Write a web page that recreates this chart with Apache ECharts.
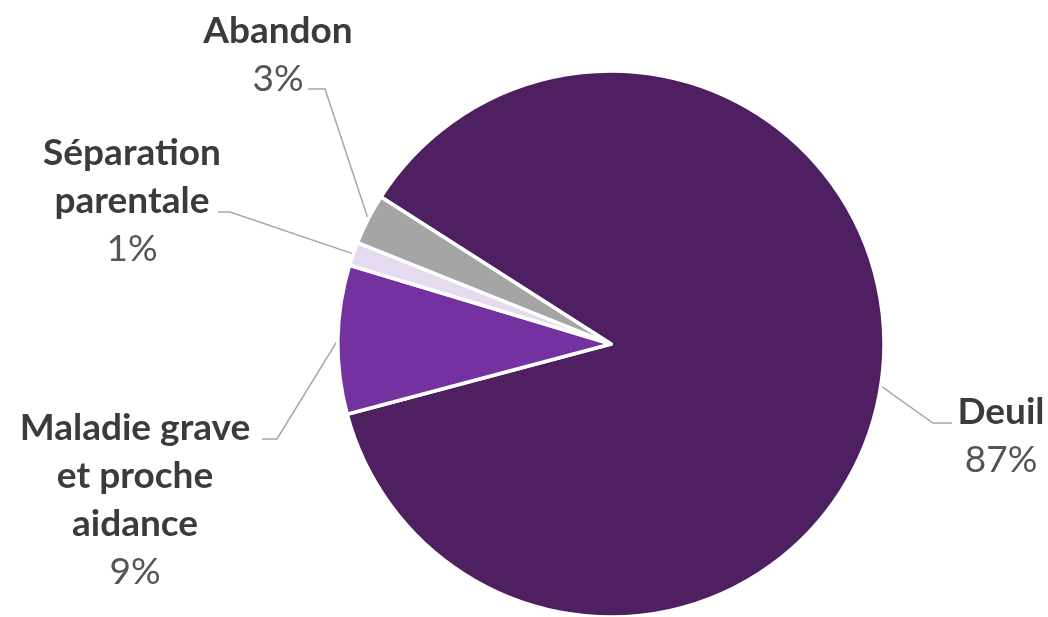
<!DOCTYPE html>
<html>
<head>
<meta charset="utf-8">
<script src="https://cdn.jsdelivr.net/npm/echarts@6/dist/echarts.min.js"></script>
<style>
  html, body { margin: 0; padding: 0; background: #ffffff; }
  #chart { width: 1048px; height: 617px; }
</style>
</head>
<body>
<div id="chart"></div>
<script>
// Data
const categories = ['Deuil', 'Maladie grave et proche aidance', 'Séparation parentale', 'Abandon'];
const values = [86.8, 8.8, 1.4, 3.0];
const labelNames = ['Deuil', 'Maladie grave\net proche\naidance', 'Séparation\nparentale', 'Abandon'];
const colors = ['#4E2062', '#7332A0', '#E6DAF0', '#A5A5A5'];

// Label placement (layout only)
const labelPos = [
  { x: 1001, y: 436, elbow: [933, 423], end: [952, 423] },
  { x: 135, y: 500, elbow: [277, 439], end: [262, 439] },
  { x: 132, y: 201, elbow: [230, 212], end: [218, 212] },
  { x: 278, y: 55, elbow: [325, 89], end: [308, 89] }
];

const chart = echarts.init(document.getElementById('chart'), null, { renderer: 'canvas' });

const option = {
  animation: false,
  backgroundColor: '#ffffff',
  series: [{
    type: 'pie',
    center: [611, 344],
    radius: 273,
    startAngle: 147.4,
    clockwise: true,
    avoidLabelOverlap: false,
    emphasis: { disabled: true },
    itemStyle: { borderColor: '#ffffff', borderWidth: 3.5 },
    data: categories.map((c, i) => ({
      name: c,
      value: values[i],
      itemStyle: { color: colors[i] }
    })),
    label: {
      show: true,
      position: 'outside',
      formatter: function (p) {
        const lines = labelNames[p.dataIndex].split('\n').map(l => '{b|' + l + '}');
        return lines.join('\n') + '\n{p|' + Math.round(p.percent) + '%}';
      },
      rich: {
        b: { fontFamily: 'Lato', fontSize: 37, fontWeight: 'bold', color: '#3B3B3B', lineHeight: 48, align: 'center' },
        p: { fontFamily: 'Lato', fontSize: 37, color: '#555555', lineHeight: 48, align: 'center' }
      }
    },
    labelLine: {
      show: true,
      length: 10,
      length2: 10,
      lineStyle: { color: '#A6A6A6', width: 1.5 }
    },
    labelLayout: function (params) {
      const lp = labelPos[params.dataIndex];
      const start = params.labelLinePoints ? params.labelLinePoints[0] : lp.elbow;
      return {
        x: lp.x,
        y: lp.y,
        align: 'center',
        verticalAlign: 'middle',
        labelLinePoints: [start, lp.elbow, lp.end]
      };
    }
  }]
};

chart.setOption(option);
</script>
</body>
</html>
